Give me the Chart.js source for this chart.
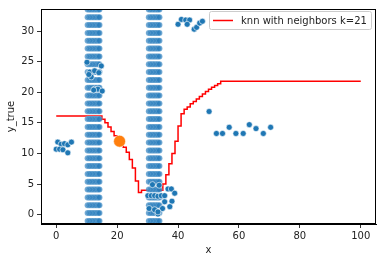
<!DOCTYPE html>
<html>
<head>
<meta charset="utf-8">
<script src="https://cdn.jsdelivr.net/npm/chart.js@4.4.1/dist/chart.umd.min.js"></script>
<style>
  html, body { margin: 0; padding: 0; background: #fff; }
  #wrap { width: 383px; height: 262px; }
</style>
</head>
<body>
<div id="wrap"><canvas id="knnChart" width="383" height="262"></canvas></div>
<script>
// tick labels
const xTicks = [0, 20, 40, 60, 80, 100];
const yTicks = [0, 5, 10, 15, 20, 25, 30];

// observed samples (x, y_true)
const sampleX = [
  0.5, 1.6, 2.7, 3.8, 5.0, 0.0, 1.1, 2.2, 3.8,
  10.1, 14.8, 11.0, 12.6, 14.0, 11.5, 10.7, 12.6, 13.7, 15.1, 12.3,
  40.0, 41.1, 42.5, 43.8, 43.0, 45.3, 46.1, 47.1, 48.0,
  50.2, 52.6, 54.6, 56.8, 59.0, 61.4, 63.4, 65.6, 68.0, 70.4,
  31.6, 33.8, 30.1, 31.2, 32.3, 33.4, 34.5, 35.6, 36.7, 37.8, 38.9,
  35.6, 38.0, 30.5, 32.3, 33.4, 34.9, 37.3, 33.4
];
const sampleY = [
  11.85, 11.5, 11.6, 11.4, 11.85, 10.7, 10.7, 10.6, 10.1,
  24.9, 24.3, 23.3, 23.5, 23.2, 22.5, 22.9, 20.5, 20.5, 20.2, 20.35,
  31.1, 31.9, 31.8, 31.8, 31.1, 30.3, 30.6, 31.3, 31.6,
  16.85, 13.26, 13.26, 14.27, 13.26, 13.26, 14.7, 14.06, 13.26, 14.27,
  4.9, 4.8, 3.1, 3.1, 3.1, 3.0, 3.1, 3.1, 4.2, 4.2, 3.5,
  2.1, 2.2, 1.0, 0.8, 0.1, 1.0, 1.3, 0.45
];

// dense query columns (x positions and y rows)
const stripeColsX = [
  10.3, 10.8, 11.3, 11.8, 12.3, 12.8, 13.3, 13.8, 14.2,
  30.4, 30.9, 31.4, 31.9, 32.4, 32.9, 33.4, 33.9
];
const stripeRowsY = [
  33.5, 32.25, 30.97, 29.69, 28.41, 27.13, 25.85, 24.57, 23.29, 22.01,
  20.73, 19.45, 18.17, 16.89, 15.61, 14.33, 13.05, 11.77, 10.49, 9.21,
  7.93, 6.65, 5.37, 4.09, 2.81, 1.53, 0.25, -1.03, -2.31
];

// knn prediction (k=21), stepped
const knnX = [0, 15, 16, 17, 18, 19, 20, 21, 22, 23, 24, 25, 26, 27, 28, 35, 36, 37, 38, 39, 40,
  41, 42, 43, 44, 45, 46, 47, 48, 49, 50, 51, 52, 53, 54, 100];
const knnY = [16.1, 15.6, 15.0, 14.3, 13.6, 12.9, 12.2, 11.6, 11.0, 10.2, 9.0, 7.6, 5.5, 3.6, 4.0, 5.0, 6.5, 8.3, 10.0, 12.0, 14.5,
  16.5, 17.2, 17.6, 18.1, 18.5, 18.9, 19.3, 19.7, 20.1, 20.5, 20.8, 21.1, 21.4, 21.8, 21.8];

// query point
const queryX = [20.8];
const queryY = [12.0];

const legendLabel = 'knn with neighbors k=21';

const FONT = 'DejaVu Sans';

const toPoints = (xs, ys) => xs.map((x, i) => ({ x: x, y: ys[i] }));
const stripePoints = stripeRowsY.flatMap(y => stripeColsX.map(x => ({ x: x, y: y })));

const framePlugin = {
  id: 'frame',
  afterDraw(chart) {
    const ctx = chart.ctx;
    const a = chart.chartArea;
    ctx.save();
    ctx.strokeStyle = '#000';
    ctx.lineWidth = 1;
    ctx.strokeRect(Math.round(a.left) + 0.5, Math.round(a.top) + 0.5,
      Math.round(a.right - a.left) - 1, Math.round(a.bottom - a.top) - 1);

    // legend box in the upper right
    const bx = 209.5, by = 11.5, bw = 162, bh = 18;
    ctx.fillStyle = 'rgba(255,255,255,0.8)';
    ctx.strokeStyle = '#cccccc';
    ctx.beginPath();
    ctx.roundRect(bx, by, bw, bh, 2);
    ctx.fill();
    ctx.stroke();
    ctx.strokeStyle = 'red';
    ctx.lineWidth = 1.5;
    ctx.beginPath();
    ctx.moveTo(213, 20.5);
    ctx.lineTo(233, 20.5);
    ctx.stroke();
    ctx.fillStyle = '#222';
    ctx.font = '10px "' + FONT + '"';
    ctx.textBaseline = 'middle';
    ctx.fillText(legendLabel, 241, 21);
    ctx.restore();
  }
};

new Chart(document.getElementById('knnChart'), {
  type: 'scatter',
  data: {
    datasets: [
      {
        label: 'query',
        data: toPoints(queryX, queryY),
        backgroundColor: '#ff7f0e',
        borderColor: '#ffffff',
        borderWidth: 0.6,
        pointRadius: 6,
        order: 0
      },
      {
        label: 'samples',
        data: toPoints(sampleX, sampleY),
        backgroundColor: '#1f77b4',
        borderColor: '#ffffff',
        borderWidth: 0.6,
        pointRadius: 3,
        order: 1
      },
      {
        label: 'grid',
        data: stripePoints,
        backgroundColor: 'rgba(40,125,188,0.72)',
        borderColor: 'rgba(255,255,255,0.35)',
        borderWidth: 0.5,
        pointRadius: 3,
        order: 2
      },
      {
        label: legendLabel,
        type: 'line',
        data: toPoints(knnX, knnY),
        borderColor: 'red',
        borderWidth: 1.5,
        stepped: 'before',
        pointRadius: 0,
        fill: false,
        order: 3
      }
    ]
  },
  options: {
    responsive: false,
    devicePixelRatio: 1,
    animation: false,
    layout: { padding: { top: 6, right: 7, left: 0, bottom: 0 } },
    plugins: {
      legend: { display: false },
      tooltip: { enabled: false }
    },
    scales: {
      x: {
        type: 'linear',
        min: -5,
        max: 105,
        afterBuildTicks: s => { s.ticks = xTicks.map(v => ({ value: v })); },
        afterFit: s => { s.height = 38; },
        grid: { drawOnChartArea: false, drawTicks: true, tickLength: 4, tickColor: '#000', tickWidth: 0.8 },
        border: { display: true, color: '#000', width: 1 },
        ticks: { color: '#222', font: { family: FONT, size: 10 }, padding: 2, maxRotation: 0 },
        title: { display: true, text: 'x', color: '#222', font: { family: FONT, size: 10 }, padding: { top: 1, bottom: 6 } }
      },
      y: {
        type: 'linear',
        min: -1.53,
        max: 33.6,
        afterBuildTicks: s => { s.ticks = yTicks.map(v => ({ value: v })); },
        afterFit: s => { s.width = 41; },
        grid: { drawOnChartArea: false, drawTicks: true, tickLength: 4, tickColor: '#000', tickWidth: 0.8 },
        border: { display: true, color: '#000', width: 1 },
        ticks: { color: '#222', font: { family: FONT, size: 10 }, padding: 3 },
        title: { display: true, text: 'y_true', color: '#222', font: { family: FONT, size: 10 }, padding: { top: 5, bottom: 2 } }
      }
    }
  },
  plugins: [framePlugin]
});
</script>
</body>
</html>
